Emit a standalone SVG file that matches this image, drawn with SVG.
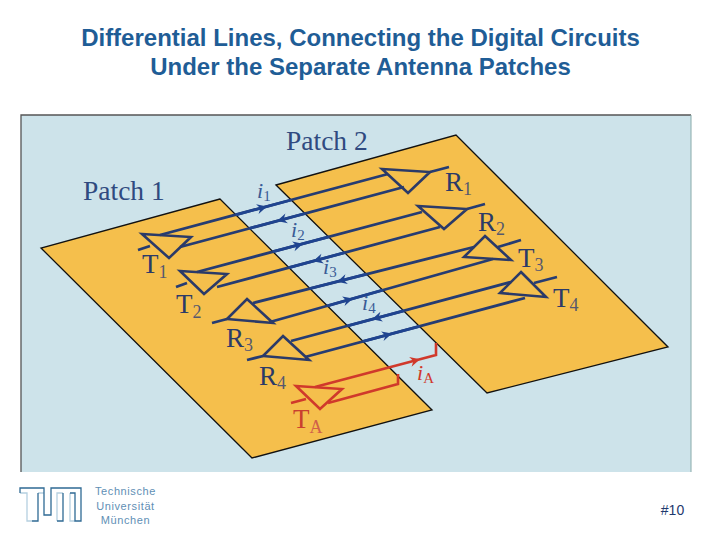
<svg xmlns="http://www.w3.org/2000/svg" width="720" height="540" viewBox="0 0 720 540">
<style>
.title{font:bold 24px "Liberation Sans",Arial,sans-serif;fill:#1f5d96;text-anchor:middle}
.foot{font:11px "Liberation Sans",Arial,sans-serif;fill:#5f8fb5;text-anchor:middle;letter-spacing:.6px}
.lab{font-family:"Liberation Serif","Times New Roman",serif;fill:#2b3a68}
.big{font-size:27.500px;fill:#2f4a80}
.t{font-size:27px}
.s{font-size:18px;fill:#55586e}
.i{font-size:22px;font-style:italic;fill:#3a5b96}
.sub{font-size:15px;font-style:normal}
.patch{fill:#f5bf4c;stroke:#111;stroke-width:1.300}
.tri{fill:none;stroke:#2b3a68;stroke-width:2.600}
.ln{fill:none;stroke:#263c72;stroke-width:2.800}
.gap{fill:none;stroke:#1f4490;stroke-width:2.800}
.red{fill:none;stroke:#d0392b;stroke-width:2.600}
.ah{fill:#1f4490}
.ar{fill:#d0392b}
</style>
<defs>
<path id="right" d="M0 0L-8.400 7.500L-6.600 1.800L-10.900 -2.200Z"/>
<path id="left" d="M0 0L10.900 2.200L6.600 -1.800L8.400 -7.500Z"/>
</defs>
<rect width="720" height="540" fill="#fff"/>
<text class="title" x="360.500" y="46">Differential Lines, Connecting the Digital Circuits</text>
<text class="title" x="360.500" y="75">Under the Separate Antenna Patches</text>
<g id="background">
<rect x="21" y="115" width="670" height="357" fill="#cde3ea"/>
<path d="M21 472V115H691" fill="none" stroke="#555" stroke-width="1.300"/>
<path d="M691 115V472" fill="none" stroke="#8aa" stroke-width="1"/>
</g>
<g id="patch-1"><polygon class="patch" points="220,199 41,248 252,458 432,410"/><text class="lab big" x="83" y="200">Patch 1</text></g>
<g id="patch-2"><polygon class="patch" points="276,185 456,135 668,347 487,393"/><text class="lab big" x="286" y="150">Patch 2</text></g>
<g id="connectors">
<path class="ln" d="M160 235L388 174M180 247L404 187M197 272L422 212M217 287L440 227M253 303L474 247M270 322L493 259M291 341L511 282M305 357L525 298"/>
<path class="ln" d="M138 250L150 246M176 287L187 283M430 172L449 167M467 209L485 204M498 247L521 240M534 283L557 277M212 323L227 319M247 360L263 356"/>
<path class="gap" d="M235.800 214.800L291.200 200M249.500 228.300L305 213.500M273 251.700L328.700 236.800M289 267.600L344.700 252.700M310 288.500L366.500 274.200M327.400 305.800L382.700 290.200M347.500 325.900L403.700 310.800M363.100 341.400L419.400 326.300"/>
<path class="red" d="M291 403L306 399M315 387L436 355V343M328 403L398 384V374"/>
<g class="ah">
<use href="#right" x="267" y="206.500"/>
<use href="#left" x="277" y="221"/>
<use href="#right" x="303" y="243.700"/>
<use href="#left" x="313" y="261.200"/>
<use href="#left" x="337" y="281.700"/>
<use href="#right" x="353" y="298.600"/>
<use href="#left" x="372" y="319.300"/>
<use href="#right" x="392" y="333.600"/>
</g>
<use class="ar" href="#right" x="420" y="359.200"/>
</g>
<g id="T1"><polygon class="tri" points="142,234 191,237 169,258"/><text class="lab t" x="142" y="273">T<tspan class="s" dy="5">1</tspan></text></g>
<g id="T2"><polygon class="tri" points="180,271 227,274 204,294"/><text class="lab t" x="176" y="313">T<tspan class="s" dy="5">2</tspan></text></g>
<g id="R3"><polygon class="tri" points="247,299 273,323 227,319"/><text class="lab t" x="226" y="347">R<tspan class="s" dy="4">3</tspan></text></g>
<g id="R4"><polygon class="tri" points="283,336 309,360 263,356"/><text class="lab t" x="259" y="385">R<tspan class="s" dy="4">4</tspan></text></g>
<g id="TA"><polygon class="tri" style="stroke:#d0392b" points="296,386 342,389 320,409"/><text class="lab t" style="fill:#c9402f" x="293" y="428">T<tspan class="s" dy="5" style="fill:#d0604a">A</tspan></text></g>
<g id="R1"><polygon class="tri" points="382,169 430,172 408,193"/><text class="lab t" x="445" y="191">R<tspan class="s" dy="4">1</tspan></text></g>
<g id="R2"><polygon class="tri" points="418,206 467,209 444,229"/><text class="lab t" x="478" y="231">R<tspan class="s" dy="4">2</tspan></text></g>
<g id="T3"><polygon class="tri" points="485,236 511,260 464,257"/><text class="lab t" x="518" y="267">T<tspan class="s" dy="4">3</tspan></text></g>
<g id="T4"><polygon class="tri" points="521,272 546,297 500,293"/><text class="lab t" x="553" y="307">T<tspan class="s" dy="4">4</tspan></text></g>
<g id="currents">
<text class="lab i" x="257" y="198">i<tspan class="sub" dy="3">1</tspan></text>
<text class="lab i" x="291" y="237">i<tspan class="sub" dy="3">2</tspan></text>
<text class="lab i" x="323" y="274">i<tspan class="sub" dy="3">3</tspan></text>
<text class="lab i" x="362" y="310">i<tspan class="sub" dy="3">4</tspan></text>
<text class="lab i" style="fill:#d0392b" x="417" y="380">i<tspan class="sub" dy="3">A</tspan></text>
</g>
<g id="logo" fill="none" stroke-width="1.300">
<path stroke="#b5d0e0" d="M20 493H27V521H32M38 493H44M57 521V493H63M70 493V521H75"/>
<path stroke="#2f6a94" d="M20 493V488H44V515H51V488H81V521H75V493H70M63 493V521H57M38 493V521H32"/>
</g>
<g id="footer">
<text class="foot" x="125.500" y="495">Technische</text>
<text class="foot" x="125.500" y="510">Universität</text>
<text class="foot" x="125.500" y="524">München</text>
<text x="672.500" y="515" style="font:14px 'Liberation Sans',Arial,sans-serif;fill:#1f3a6e;text-anchor:middle">#10</text>
</g>
</svg>
